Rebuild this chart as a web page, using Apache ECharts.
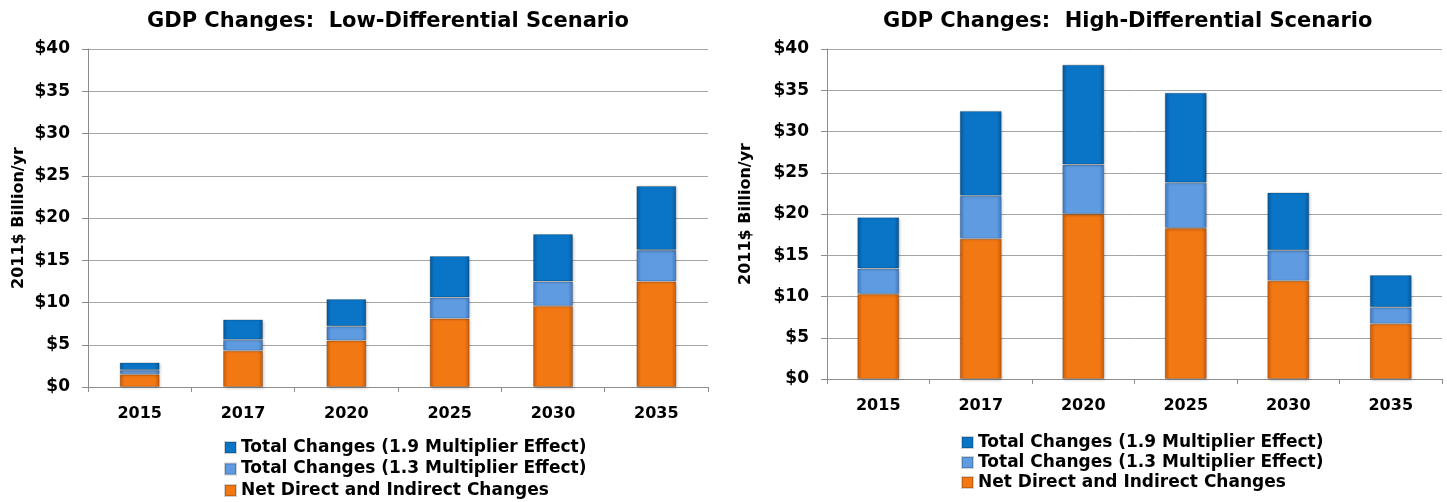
<!DOCTYPE html>
<html>
<head>
<meta charset="utf-8">
<script src="https://cdn.jsdelivr.net/npm/echarts@6/dist/echarts.min.js"></script>
<style>
html,body{margin:0;padding:0;background:#fff;}
#c{width:1447px;height:502px;}
</style>
</head>
<body>
<div id="c"></div>
<script>
// Categories and tick labels
var years = ['2015', '2017', '2020', '2025', '2030', '2035'];
var yTicks = [0, 5, 10, 15, 20, 25, 30, 35, 40];

// Series names
var nameTop = 'Total Changes (1.9 Multiplier Effect)';
var nameMid = 'Total Changes (1.3 Multiplier Effect)';
var nameNet = 'Net Direct and Indirect Changes';

// Low-Differential scenario: stacked segment values ($ billion/yr)
var lowNet = [1.5, 4.3, 5.5, 8.1, 9.6, 12.5];
var lowMid = [0.5, 1.3, 1.7, 2.5, 2.9, 3.7];
var lowTop = [0.9, 2.4, 3.2, 4.9, 5.6, 7.6];

// High-Differential scenario: stacked segment values ($ billion/yr)
var highNet = [10.3, 17.0, 20.0, 18.3, 11.9, 6.7];
var highMid = [3.1, 5.2, 6.0, 5.5, 3.7, 2.0];
var highTop = [6.2, 10.3, 12.1, 10.9, 7.0, 3.9];

var FONT = '"DejaVu Sans", Arial, sans-serif';

function grad(c1, c2) {
  return new echarts.graphic.LinearGradient(0, 0, 1, 0, [
    {offset: 0, color: c2}, {offset: 0.12, color: c1},
    {offset: 0.88, color: c1}, {offset: 1, color: c2}
  ]);
}
var colNet = grad('#F27813', '#C85A08');
var colMid = grad('#5E9BE0', '#3F78BE');
var colTop = grad('#0A74C6', '#07589A');

function xAxis(gi) {
  return {
    type: 'category', gridIndex: gi, data: years,
    axisLine: {lineStyle: {color: '#8C8C8C', width: 1}},
    axisTick: {show: true, alignWithLabel: false, length: 5, lineStyle: {color: '#8C8C8C'}},
    axisLabel: {color: '#000', fontFamily: FONT, fontWeight: 'bold', fontSize: 16, margin: 19}
  };
}
function yAxis(gi, gap) {
  return {
    type: 'value', gridIndex: gi, min: 0, max: 40, interval: 5,
    name: '2011$ Billion/yr', nameLocation: 'middle', nameGap: gap, nameRotate: 90,
    nameTextStyle: {color: '#000', fontFamily: FONT, fontWeight: 'bold', fontSize: 16},
    axisLine: {show: true, lineStyle: {color: '#8C8C8C', width: 1}},
    axisTick: {show: true, length: 6, lineStyle: {color: '#8C8C8C'}},
    splitLine: {show: true, lineStyle: {color: '#A6A6A6', width: 1}},
    axisLabel: {color: '#000', fontFamily: FONT, fontWeight: 'bold', fontSize: 17, margin: 18,
      formatter: function (v) { return yTicks.indexOf(v) >= 0 ? '$' + v : ''; }}
  };
}
function bar(name, data, gi, color, w) {
  return {
    name: name, type: 'bar', stack: 's' + gi, xAxisIndex: gi, yAxisIndex: gi,
    data: data, barWidth: w,
    itemStyle: {color: color, borderColor: 'rgba(0,0,0,0.18)', borderWidth: 1,
      shadowColor: 'rgba(0,0,0,0.25)', shadowBlur: 3, shadowOffsetX: 1, shadowOffsetY: 1},
    emphasis: {disabled: true}
  };
}
function legend(left, top, gap) {
  return {
    orient: 'vertical', left: left, top: top, itemGap: gap, padding: 0,
    height: 100, width: 500,
    itemWidth: 11, itemHeight: 11, icon: 'rect',
    data: [
      {name: nameTop, itemStyle: {color: '#0A74C6'}},
      {name: nameMid, itemStyle: {color: '#5E9BE0'}},
      {name: nameNet, itemStyle: {color: '#F27813'}}
    ],
    textStyle: {color: '#000', fontFamily: FONT, fontWeight: 'bold', fontSize: 17, lineHeight: 17}
  };
}

var chart = echarts.init(document.getElementById('c'), null, {renderer: 'canvas'});
chart.setOption({
  animation: false,
  backgroundColor: '#fff',
  title: [
    {text: 'GDP Changes:  Low-Differential Scenario', left: 147, top: 11, padding: 0,
     textStyle: {color: '#000', fontFamily: FONT, fontWeight: 'bold', fontSize: 21}},
    {text: 'GDP Changes:  High-Differential Scenario', left: 883, top: 11, padding: 0,
     textStyle: {color: '#000', fontFamily: FONT, fontWeight: 'bold', fontSize: 21}}
  ],
  legend: [legend(224, 439, 4.5), legend(961, 434, 3)],
  grid: [
    {left: 88, right: 739, top: 49, bottom: 115, containLabel: false},
    {left: 827, right: 5, top: 49, bottom: 123, containLabel: false}
  ],
  xAxis: [xAxis(0), xAxis(1)],
  yAxis: [yAxis(0, 61), yAxis(1, 73)],
  series: [
    bar(nameNet, lowNet, 0, colNet, 40),
    bar(nameMid, lowMid, 0, colMid, 40),
    bar(nameTop, lowTop, 0, colTop, 40),
    bar(nameNet, highNet, 1, colNet, 42),
    bar(nameMid, highMid, 1, colMid, 42),
    bar(nameTop, highTop, 1, colTop, 42)
  ]
});
</script>
</body>
</html>
